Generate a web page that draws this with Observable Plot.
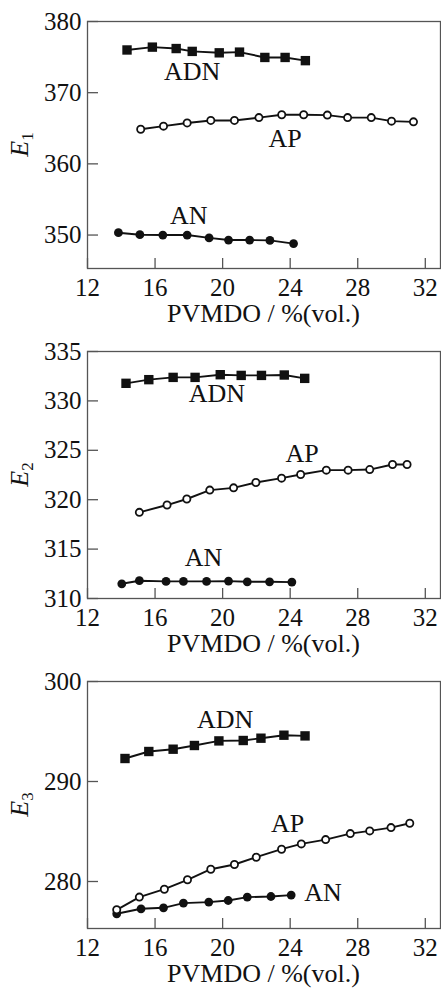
<!DOCTYPE html>
<html>
<head>
<meta charset="utf-8">
<script src="https://cdn.jsdelivr.net/npm/d3@7"></script>
<script src="https://cdn.jsdelivr.net/npm/@observablehq/plot@0.6"></script>
<style>
  html, body { margin: 0; padding: 0; background: #fff; }
  #chart { width: 441px; }
  #chart svg { display: block; }
  #chart svg, #chart svg text { font-family: "Liberation Serif", "DejaVu Serif", serif !important; }
</style>
</head>
<body>
<div id="chart"></div>
<script>
// ---------- data ----------
const seriesNames = ["ADN", "AP", "AN"];
const xTicks = [12, 16, 20, 24, 28, 32];
const xLabel = "PVMDO / %(vol.)";
const yLabelSub = ["1", "2", "3"];

// Panel 1 (E1)
const adn1X = [14.34, 15.84, 17.25, 18.2, 19.8, 21.0, 22.5, 23.7, 24.9];
const adn1Y = [376.0, 376.4, 376.2, 375.8, 375.6, 375.7, 374.95, 374.95, 374.5];
const ap1X = [15.15, 16.5, 17.9, 19.3, 20.7, 22.15, 23.5, 24.8, 26.2, 27.4, 28.8, 30.0, 31.3];
const ap1Y = [364.86, 365.3, 365.75, 366.1, 366.1, 366.5, 366.9, 366.9, 366.85, 366.5, 366.5, 366.0, 365.9];
const an1X = [13.83, 15.1, 16.46, 17.9, 19.2, 20.35, 21.6, 22.8, 24.2];
const an1Y = [350.33, 350.05, 350.0, 350.0, 349.6, 349.3, 349.3, 349.25, 348.8];
const yTicks1 = [350, 360, 370, 380];
const labelX1 = [18.2, 23.7, 18.0];
const labelY1 = [372.9, 363.5, 352.7];

// Panel 2 (E2)
const adn2X = [14.28, 15.63, 17.07, 18.37, 19.86, 21.1, 22.3, 23.65, 24.86];
const adn2Y = [331.78, 332.15, 332.38, 332.38, 332.65, 332.58, 332.58, 332.62, 332.28];
const ap2X = [15.07, 16.71, 17.88, 19.24, 20.65, 21.97, 23.49, 24.62, 26.14, 27.43, 28.71, 30.06, 30.92];
const ap2Y = [318.72, 319.46, 320.07, 320.97, 321.2, 321.74, 322.18, 322.55, 322.99, 322.99, 323.05, 323.56, 323.56];
const an2X = [14.03, 15.07, 16.65, 17.68, 19.05, 20.35, 21.46, 22.78, 24.1];
const an2Y = [311.49, 311.8, 311.73, 311.73, 311.73, 311.76, 311.69, 311.69, 311.66];
const yTicks2 = [310, 315, 320, 325, 330, 335];
const labelX2 = [19.66, 24.7, 18.87];
const labelY2 = [330.75, 324.7, 314.15];

// Panel 3 (E3)
const adn3X = [14.22, 15.63, 17.07, 18.33, 19.78, 21.22, 22.27, 23.63, 24.88];
const adn3Y = [292.3, 293.0, 293.23, 293.6, 294.06, 294.1, 294.33, 294.63, 294.56];
const ap3X = [13.73, 15.07, 16.55, 17.92, 19.3, 20.7, 21.99, 23.49, 24.66, 26.1, 27.56, 28.71, 29.97, 31.08];
const ap3Y = [277.17, 278.44, 279.23, 280.17, 281.23, 281.7, 282.43, 283.23, 283.76, 284.19, 284.79, 285.06, 285.39, 285.82];
const an3X = [13.73, 15.17, 16.5, 17.68, 19.18, 20.33, 21.46, 22.86, 24.06];
const an3Y = [276.77, 277.27, 277.37, 277.84, 277.94, 278.1, 278.44, 278.5, 278.64];
const yTicks3 = [280, 290, 300];
const labelX3 = [20.15, 23.85, 25.94];
const labelY3 = [296.2, 285.76, 278.87];

// ---------- build ----------
const zip = (xs, ys) => xs.map((x, i) => ({x, y: ys[i]}));
const INK = "#111";

const panels = [
  {adn: zip(adn1X, adn1Y), ap: zip(ap1X, ap1Y), an: zip(an1X, an1Y), yTicks: yTicks1, yDomain: [345.3, 380],
   labels: seriesNames.map((s, i) => ({s, x: labelX1[i], y: labelY1[i]})), sub: yLabelSub[0]},
  {adn: zip(adn2X, adn2Y), ap: zip(ap2X, ap2Y), an: zip(an2X, an2Y), yTicks: yTicks2, yDomain: [310, 335],
   labels: seriesNames.map((s, i) => ({s, x: labelX2[i], y: labelY2[i]})), sub: yLabelSub[1]},
  {adn: zip(adn3X, adn3Y), ap: zip(ap3X, ap3Y), an: zip(an3X, an3Y), yTicks: yTicks3, yDomain: [275.3, 300],
   labels: seriesNames.map((s, i) => ({s, x: labelX3[i], y: labelY3[i]})), sub: yLabelSub[2]}
];

const W = 441, H = 330, mt = 21, mb = 62, ml = 87, mr = 1;

for (const p of panels) {
  const svg = Plot.plot({
    width: W, height: H,
    marginTop: mt, marginBottom: mb, marginLeft: ml, marginRight: mr,
    style: {fontSize: "25px", color: INK, background: "#fff", overflow: "visible"},
    x: {domain: [12, 32.9]},
    y: {domain: p.yDomain},
    marks: [
      Plot.frame({stroke: "#555", strokeWidth: 1.3}),
      Plot.axisX({ticks: xTicks, tickSize: -10, tickPadding: 20, tickFormat: d => String(d), label: null, stroke: "#555", strokeWidth: 1.3}),
      Plot.axisY({ticks: p.yTicks, tickSize: -11, tickPadding: 17, tickFormat: d => String(d), label: null, stroke: "#555", strokeWidth: 1.3}),
      Plot.line(p.adn, {x: "x", y: "y", stroke: INK, strokeWidth: 1.9}),
      Plot.line(p.ap, {x: "x", y: "y", stroke: INK, strokeWidth: 1.9}),
      Plot.line(p.an, {x: "x", y: "y", stroke: INK, strokeWidth: 1.9}),
      Plot.dot(p.adn, {x: "x", y: "y", symbol: "square", r: 5.3, fill: INK, stroke: "none"}),
      Plot.dot(p.an, {x: "x", y: "y", symbol: "circle", r: 4.4, fill: INK, stroke: "none"}),
      Plot.dot(p.ap, {x: "x", y: "y", symbol: "circle", r: 3.6, fill: "#fff", stroke: INK, strokeWidth: 1.8}),
      Plot.text(p.labels, {x: "x", y: "y", text: "s", fontSize: 26, fill: INK})
    ]
  });
  const s = d3.select(svg);
  // y-axis title: italic E with subscript
  const cy = mt + (H - mt - mb) / 2;
  const t = s.append("text")
    .attr("transform", `translate(28,${cy}) rotate(-90)`)
    .attr("text-anchor", "middle")
    .attr("fill", INK);
  t.append("tspan").attr("font-style", "italic").attr("font-size", 26).text("E");
  t.append("tspan").attr("font-size", 17).attr("dy", 5).text(p.sub);
  // x-axis title
  s.append("text")
    .attr("x", ml + (W - ml - mr) / 2)
    .attr("y", H - mb + 54)
    .attr("text-anchor", "middle")
    .attr("fill", INK)
    .attr("font-size", 26)
    .text(xLabel);
  document.getElementById("chart").appendChild(svg);
}
</script>
</body>
</html>
